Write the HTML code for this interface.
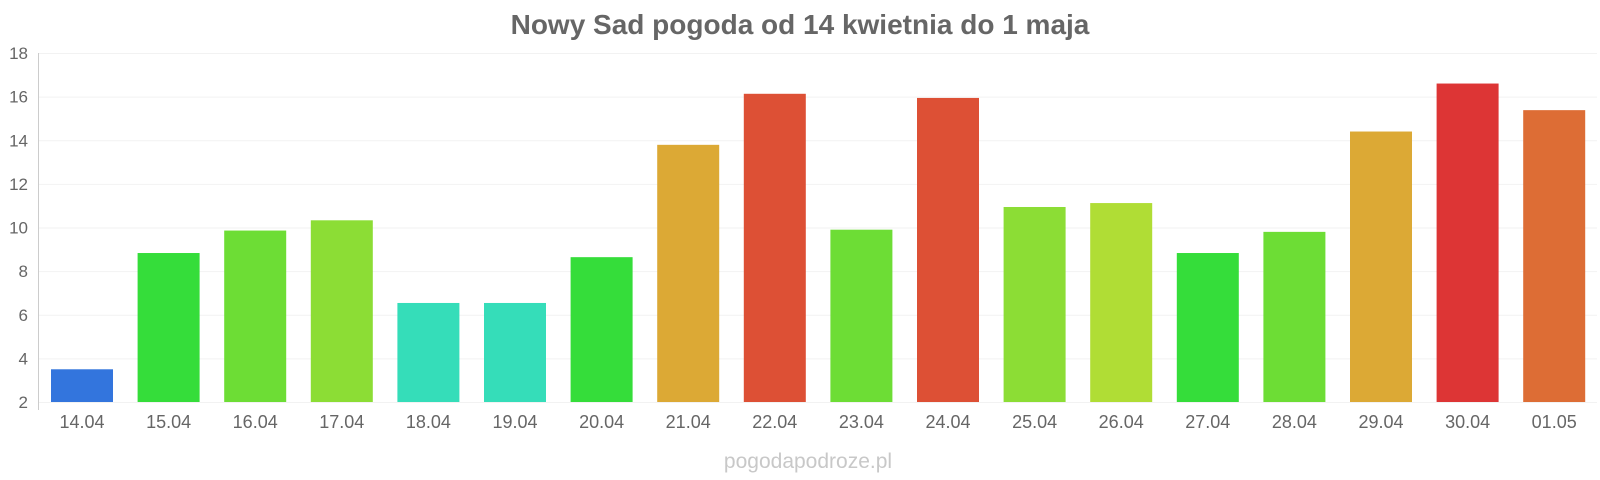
<!DOCTYPE html>
<html><head><meta charset="utf-8"><style>body{margin:0;background:#fff}svg{display:block}</style></head>
<body>
<svg width="1600" height="480" xmlns="http://www.w3.org/2000/svg" font-family="Liberation Sans, Arial, sans-serif">
<text x="800" y="34" text-anchor="middle" font-size="28" font-weight="bold" fill="#666">Nowy Sad pogoda od 14 kwietnia do 1 maja</text>
<g id="grid" stroke="#f2f2f2" stroke-width="1"></g>
<g id="bars"></g>
<line x1="38.5" y1="53" x2="38.5" y2="410" stroke="#ccc" stroke-width="1"/>
<g id="ylab" font-size="17" fill="#666" text-anchor="end"></g>
<g id="xlab" font-size="18" fill="#666" text-anchor="middle"></g>
<text x="808" y="468" text-anchor="middle" font-size="21" fill="#c8c8c8">pogodapodroze.pl</text>
<script>
var ns="http://www.w3.org/2000/svg";
function el(t,a,p,txt){var e=document.createElementNS(ns,t);for(var k in a)e.setAttribute(k,a[k]);if(txt)e.textContent=txt;p.appendChild(e);}
var y0=402,s=21.8125;
var g=document.getElementById('grid'),yl=document.getElementById('ylab');
for(var v=2;v<=18;v+=2){var y=y0-(v-2)*s;el('line',{x1:38,x2:1597,y1:y+0.5,y2:y+0.5},g);el('text',{x:28,y:y+6},yl,String(v));}
var vals=[3.5,8.83,9.86,10.33,6.54,6.54,8.64,13.79,16.13,9.9,15.94,10.94,11.12,8.83,9.8,14.4,16.6,15.38];
var cols=["#3375dd","#35dd3a","#6ddd35","#8cdd35","#35ddb9","#35ddb9","#35dd3a","#dca935","#dd5035","#6ddd35","#dd5035","#8cdd35","#b0dd35","#35dd3a","#6ddd35","#dca935","#dd3535","#dd6d35"];
var labs=["14.04","15.04","16.04","17.04","18.04","19.04","20.04","21.04","22.04","23.04","24.04","25.04","26.04","27.04","28.04","29.04","30.04","01.05"];
var b=document.getElementById('bars'),xl=document.getElementById('xlab');
for(var i=0;i<18;i++){var x=51+i*86.6,h=(vals[i]-2)*s;el('rect',{x:x,y:y0-h,width:62,height:h,fill:cols[i]},b);el('text',{x:x+31,y:428},xl,labs[i]);}
</script>
</svg>
</body></html>
